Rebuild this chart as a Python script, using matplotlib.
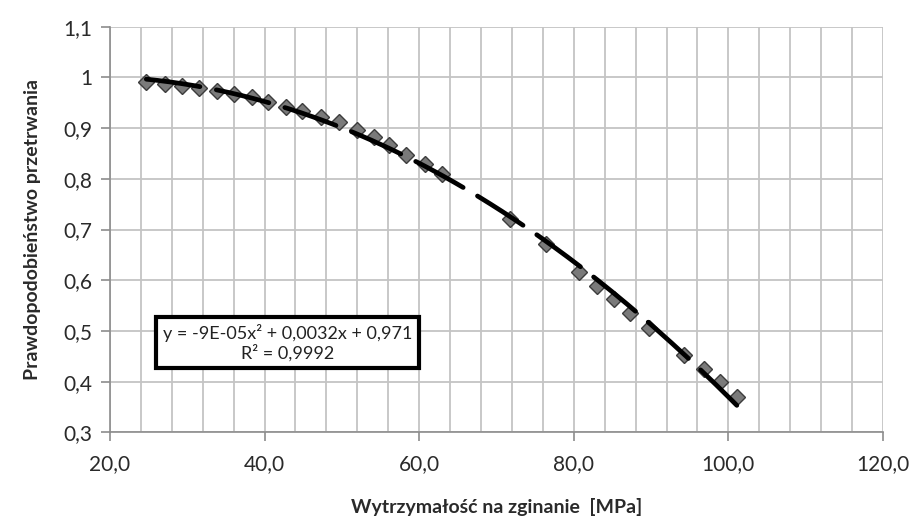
import numpy as np
import matplotlib
matplotlib.use('Agg')
import matplotlib.pyplot as plt
from matplotlib.ticker import FixedLocator, FuncFormatter

wytrzymalosc = [24.7, 27.1, 29.3, 31.5, 33.8, 36.0, 38.4, 40.4, 42.8, 44.9,
                47.3, 49.6, 51.9, 54.1, 56.1, 58.3, 60.8, 63.0, 71.8, 76.4,
                80.7, 83.0, 85.2, 87.3, 89.7, 94.2, 96.8, 98.9, 101.1]
przetrwanie = [0.992, 0.987, 0.983, 0.979, 0.973, 0.967, 0.961, 0.952, 0.942, 0.933,
               0.923, 0.912, 0.897, 0.882, 0.867, 0.847, 0.829, 0.810, 0.720, 0.671,
               0.617, 0.589, 0.563, 0.535, 0.506, 0.453, 0.426, 0.400, 0.369]
rownanie = 'y = -9E-05x² + 0,0032x + 0,971\nR² = 0,9992'

x_ticks = [20, 40, 60, 80, 100, 120]
y_ticks = [0.3, 0.4, 0.5, 0.6, 0.7, 0.8, 0.9, 1.0, 1.1]

plt.rcParams['font.family'] = ['Lato', 'DejaVu Sans']
plt.rcParams['lines.scale_dashes'] = False

fig = plt.figure(figsize=(9.18, 5.25), dpi=100)
ax = fig.add_axes([0.1198, 0.1764, 0.8420, 0.7726])

x = np.array(wytrzymalosc)
y = np.array(przetrwanie)

ax.plot(x, y, ls='none', marker='D', ms=8.6, mfc='#7a7a7a', mec='#3c3c3c',
        mew=1.0, zorder=3)

# linia trendu (wielomian 2 stopnia)
wsp = np.polyfit(x, y, 2)
xt = np.linspace(x.min(), x.max(), 200)
trend, = ax.plot(xt, np.polyval(wsp, xt), color='black', lw=3.4, zorder=4,
                 solid_capstyle='round', dash_capstyle='round')
trend.set_dashes([39, 12])

ax.set_xlim(20, 120)
ax.set_ylim(0.3, 1.1)
ax.xaxis.set_major_locator(FixedLocator(x_ticks))
ax.xaxis.set_minor_locator(FixedLocator(np.arange(20, 121, 4)))
ax.yaxis.set_major_locator(FixedLocator(y_ticks))

def fmt_y(v, pos):
    if abs(v - 1.0) < 1e-9:
        return '1'
    return ('%.1f' % v).replace('.', ',')

ax.xaxis.set_major_formatter(FuncFormatter(lambda v, p: ('%.1f' % v).replace('.', ',')))
ax.yaxis.set_major_formatter(FuncFormatter(fmt_y))

ax.grid(True, which='both', axis='x', color='#c4c4c4', lw=1.3, zorder=0)
ax.grid(True, which='major', axis='y', color='#c4c4c4', lw=1.3, zorder=0)
ax.set_axisbelow(True)

for s in ['top', 'right']:
    ax.spines[s].set_visible(False)
for s in ['left', 'bottom']:
    ax.spines[s].set_color('#8c8c8c')
    ax.spines[s].set_linewidth(1.2)

ax.tick_params(which='major', direction='out', length=6.5, width=1.2, color='#8c8c8c',
               labelsize=15, labelcolor='#2a2a2a')
ax.tick_params(axis='x', which='minor', length=0)
ax.tick_params(axis='x', pad=9)
ax.tick_params(axis='y', pad=6)

ax.set_xlabel('Wytrzymałość na zginanie  [MPa]', fontsize=14, fontweight='bold',
              color='#2a2a2a', labelpad=17)
ax.set_ylabel('Prawdopodobieństwo przetrwania', fontsize=14, fontweight='bold',
              color='#2a2a2a', labelpad=16)

ax.text(0.2296, 0.221, rownanie, transform=ax.transAxes, ha='center', va='center',
        fontsize=13, color='#222222', linespacing=1.15, zorder=6,
        bbox=dict(boxstyle='square,pad=0.38', fc='white', ec='black', lw=3))

fig.savefig('out.png', dpi=100)
